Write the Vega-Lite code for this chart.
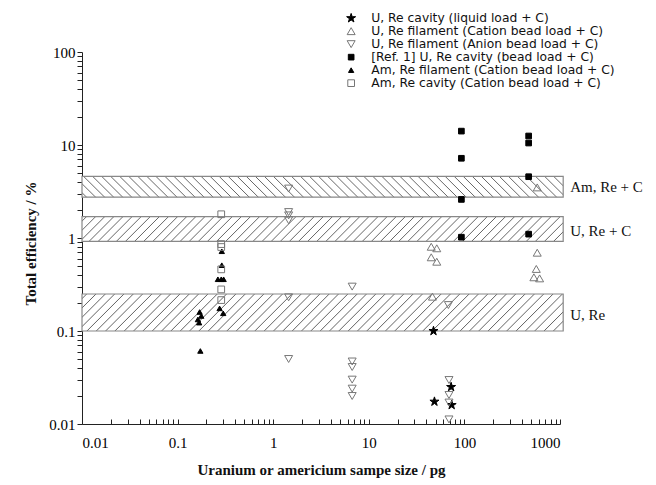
{
  "$schema": "https://vega.github.io/schema/vega-lite/v6.json",
  "width": 478,
  "height": 372,
  "autosize": {"type": "none"},
  "padding": {"left": 82, "top": 52, "right": 96, "bottom": 61},
  "background": "white",
  "config": {
    "view": {"stroke": null},
    "axis": {
      "grid": false,
      "tickColor": "#222", "domainColor": "#222", "tickWidth": 1, "domainWidth": 1,
      "labelFont": "Liberation Serif", "labelFontSize": 15, "labelColor": "#000",
      "titleFont": "Liberation Serif", "titleFontSize": 15, "titleFontWeight": "bold", "titleColor": "#111",
      "labelOverlap": false
    }
  },
  "params": [
    {"name": "hs", "value": [
      {"offset":0,"color":"#fff"},
      {"offset":0.007,"color":"#fff"},{"offset":0.009,"color":"#666"},{"offset":0.011,"color":"#fff"},
      {"offset":0.025,"color":"#fff"},{"offset":0.027,"color":"#666"},{"offset":0.029,"color":"#fff"},
      {"offset":0.043,"color":"#fff"},{"offset":0.045,"color":"#666"},{"offset":0.047,"color":"#fff"},
      {"offset":0.061,"color":"#fff"},{"offset":0.063,"color":"#666"},{"offset":0.065,"color":"#fff"},
      {"offset":0.079,"color":"#fff"},{"offset":0.081,"color":"#666"},{"offset":0.083,"color":"#fff"},
      {"offset":0.097,"color":"#fff"},{"offset":0.099,"color":"#666"},{"offset":0.101,"color":"#fff"},
      {"offset":0.115,"color":"#fff"},{"offset":0.117,"color":"#666"},{"offset":0.119,"color":"#fff"},
      {"offset":0.133,"color":"#fff"},{"offset":0.135,"color":"#666"},{"offset":0.137,"color":"#fff"},
      {"offset":0.151,"color":"#fff"},{"offset":0.153,"color":"#666"},{"offset":0.155,"color":"#fff"},
      {"offset":0.169,"color":"#fff"},{"offset":0.171,"color":"#666"},{"offset":0.173,"color":"#fff"},
      {"offset":0.187,"color":"#fff"},{"offset":0.189,"color":"#666"},{"offset":0.191,"color":"#fff"},
      {"offset":0.205,"color":"#fff"},{"offset":0.207,"color":"#666"},{"offset":0.209,"color":"#fff"},
      {"offset":0.223,"color":"#fff"},{"offset":0.225,"color":"#666"},{"offset":0.227,"color":"#fff"},
      {"offset":0.241,"color":"#fff"},{"offset":0.243,"color":"#666"},{"offset":0.245,"color":"#fff"},
      {"offset":0.259,"color":"#fff"},{"offset":0.261,"color":"#666"},{"offset":0.263,"color":"#fff"},
      {"offset":0.277,"color":"#fff"},{"offset":0.279,"color":"#666"},{"offset":0.281,"color":"#fff"},
      {"offset":0.295,"color":"#fff"},{"offset":0.297,"color":"#666"},{"offset":0.299,"color":"#fff"},
      {"offset":0.313,"color":"#fff"},{"offset":0.315,"color":"#666"},{"offset":0.317,"color":"#fff"},
      {"offset":0.331,"color":"#fff"},{"offset":0.333,"color":"#666"},{"offset":0.335,"color":"#fff"},
      {"offset":0.349,"color":"#fff"},{"offset":0.351,"color":"#666"},{"offset":0.353,"color":"#fff"},
      {"offset":0.367,"color":"#fff"},{"offset":0.369,"color":"#666"},{"offset":0.371,"color":"#fff"},
      {"offset":0.385,"color":"#fff"},{"offset":0.387,"color":"#666"},{"offset":0.389,"color":"#fff"},
      {"offset":0.403,"color":"#fff"},{"offset":0.405,"color":"#666"},{"offset":0.407,"color":"#fff"},
      {"offset":0.421,"color":"#fff"},{"offset":0.423,"color":"#666"},{"offset":0.425,"color":"#fff"},
      {"offset":0.439,"color":"#fff"},{"offset":0.441,"color":"#666"},{"offset":0.443,"color":"#fff"},
      {"offset":0.457,"color":"#fff"},{"offset":0.459,"color":"#666"},{"offset":0.461,"color":"#fff"},
      {"offset":0.475,"color":"#fff"},{"offset":0.477,"color":"#666"},{"offset":0.479,"color":"#fff"},
      {"offset":0.493,"color":"#fff"},{"offset":0.495,"color":"#666"},{"offset":0.497,"color":"#fff"},
      {"offset":0.511,"color":"#fff"},{"offset":0.513,"color":"#666"},{"offset":0.515,"color":"#fff"},
      {"offset":0.529,"color":"#fff"},{"offset":0.531,"color":"#666"},{"offset":0.533,"color":"#fff"},
      {"offset":0.547,"color":"#fff"},{"offset":0.549,"color":"#666"},{"offset":0.551,"color":"#fff"},
      {"offset":0.565,"color":"#fff"},{"offset":0.567,"color":"#666"},{"offset":0.569,"color":"#fff"},
      {"offset":0.583,"color":"#fff"},{"offset":0.585,"color":"#666"},{"offset":0.587,"color":"#fff"},
      {"offset":0.601,"color":"#fff"},{"offset":0.603,"color":"#666"},{"offset":0.605,"color":"#fff"},
      {"offset":0.619,"color":"#fff"},{"offset":0.621,"color":"#666"},{"offset":0.623,"color":"#fff"},
      {"offset":0.637,"color":"#fff"},{"offset":0.639,"color":"#666"},{"offset":0.641,"color":"#fff"},
      {"offset":0.655,"color":"#fff"},{"offset":0.657,"color":"#666"},{"offset":0.659,"color":"#fff"},
      {"offset":0.673,"color":"#fff"},{"offset":0.675,"color":"#666"},{"offset":0.677,"color":"#fff"},
      {"offset":0.691,"color":"#fff"},{"offset":0.693,"color":"#666"},{"offset":0.695,"color":"#fff"},
      {"offset":0.709,"color":"#fff"},{"offset":0.711,"color":"#666"},{"offset":0.713,"color":"#fff"},
      {"offset":0.727,"color":"#fff"},{"offset":0.729,"color":"#666"},{"offset":0.731,"color":"#fff"},
      {"offset":0.745,"color":"#fff"},{"offset":0.747,"color":"#666"},{"offset":0.749,"color":"#fff"},
      {"offset":0.763,"color":"#fff"},{"offset":0.765,"color":"#666"},{"offset":0.767,"color":"#fff"},
      {"offset":0.781,"color":"#fff"},{"offset":0.783,"color":"#666"},{"offset":0.785,"color":"#fff"},
      {"offset":0.799,"color":"#fff"},{"offset":0.801,"color":"#666"},{"offset":0.803,"color":"#fff"},
      {"offset":0.817,"color":"#fff"},{"offset":0.819,"color":"#666"},{"offset":0.821,"color":"#fff"},
      {"offset":0.835,"color":"#fff"},{"offset":0.837,"color":"#666"},{"offset":0.839,"color":"#fff"},
      {"offset":0.853,"color":"#fff"},{"offset":0.855,"color":"#666"},{"offset":0.857,"color":"#fff"},
      {"offset":0.871,"color":"#fff"},{"offset":0.873,"color":"#666"},{"offset":0.875,"color":"#fff"},
      {"offset":0.889,"color":"#fff"},{"offset":0.891,"color":"#666"},{"offset":0.893,"color":"#fff"},
      {"offset":0.907,"color":"#fff"},{"offset":0.909,"color":"#666"},{"offset":0.911,"color":"#fff"},
      {"offset":0.925,"color":"#fff"},{"offset":0.927,"color":"#666"},{"offset":0.929,"color":"#fff"},
      {"offset":0.943,"color":"#fff"},{"offset":0.945,"color":"#666"},{"offset":0.947,"color":"#fff"},
      {"offset":0.961,"color":"#fff"},{"offset":0.963,"color":"#666"},{"offset":0.965,"color":"#fff"},
      {"offset":0.979,"color":"#fff"},{"offset":0.981,"color":"#666"},{"offset":0.983,"color":"#fff"},
      {"offset":1,"color":"#fff"}
    ]}
  ],
  "datasets": {
    "bands": [
      {"band": "Am", "x": 0.01, "x2": 1080, "y": 2.75, "y2": 4.6},
      {"band": "URC", "x": 0.01, "x2": 1080, "y": 0.92, "y2": 1.7},
      {"band": "UR", "x": 0.01, "x2": 1080, "y": 0.1, "y2": 0.25}
    ],
    "labels": [
      {"x": 1080, "y": 3.56, "text": "Am, Re + C"},
      {"x": 1080, "y": 1.18, "text": "U, Re + C"},
      {"x": 1080, "y": 0.15, "text": "U, Re"}
    ],
    "pts": [
      {"s": "U, Re cavity (liquid load + C)", "x": 47.5, "y": 0.1},
      {"s": "U, Re cavity (liquid load + C)", "x": 48.6, "y": 0.0174},
      {"s": "U, Re cavity (liquid load + C)", "x": 72.6, "y": 0.025},
      {"s": "U, Re cavity (liquid load + C)", "x": 73.6, "y": 0.016},
      {"s": "U, Re filament (Cation bead load + C)", "x": 45, "y": 0.805},
      {"s": "U, Re filament (Cation bead load + C)", "x": 51.4, "y": 0.775},
      {"s": "U, Re filament (Cation bead load + C)", "x": 45, "y": 0.62},
      {"s": "U, Re filament (Cation bead load + C)", "x": 51.4, "y": 0.556},
      {"s": "U, Re filament (Cation bead load + C)", "x": 46.3, "y": 0.234},
      {"s": "U, Re filament (Cation bead load + C)", "x": 578, "y": 3.5},
      {"s": "U, Re filament (Cation bead load + C)", "x": 578, "y": 0.695},
      {"s": "U, Re filament (Cation bead load + C)", "x": 565, "y": 0.465},
      {"s": "U, Re filament (Cation bead load + C)", "x": 533, "y": 0.378},
      {"s": "U, Re filament (Cation bead load + C)", "x": 612, "y": 0.368},
      {"s": "U, Re filament (Anion bead load + C)", "x": 1.45, "y": 3.4},
      {"s": "U, Re filament (Anion bead load + C)", "x": 1.45, "y": 1.9},
      {"s": "U, Re filament (Anion bead load + C)", "x": 1.45, "y": 1.75},
      {"s": "U, Re filament (Anion bead load + C)", "x": 1.45, "y": 1.55},
      {"s": "U, Re filament (Anion bead load + C)", "x": 1.45, "y": 0.23},
      {"s": "U, Re filament (Anion bead load + C)", "x": 1.45, "y": 0.05},
      {"s": "U, Re filament (Anion bead load + C)", "x": 6.7, "y": 0.3},
      {"s": "U, Re filament (Anion bead load + C)", "x": 6.7, "y": 0.047},
      {"s": "U, Re filament (Anion bead load + C)", "x": 6.7, "y": 0.041},
      {"s": "U, Re filament (Anion bead load + C)", "x": 6.7, "y": 0.03},
      {"s": "U, Re filament (Anion bead load + C)", "x": 6.7, "y": 0.024},
      {"s": "U, Re filament (Anion bead load + C)", "x": 6.7, "y": 0.02},
      {"s": "U, Re filament (Anion bead load + C)", "x": 68, "y": 0.19},
      {"s": "U, Re filament (Anion bead load + C)", "x": 69, "y": 0.0297},
      {"s": "U, Re filament (Anion bead load + C)", "x": 69, "y": 0.0205},
      {"s": "U, Re filament (Anion bead load + C)", "x": 69, "y": 0.017},
      {"s": "U, Re filament (Anion bead load + C)", "x": 69, "y": 0.0112},
      {"s": "[Ref. 1] U, Re cavity (bead load + C)", "x": 93, "y": 14.1},
      {"s": "[Ref. 1] U, Re cavity (bead load + C)", "x": 93, "y": 7.2},
      {"s": "[Ref. 1] U, Re cavity (bead load + C)", "x": 93, "y": 2.6},
      {"s": "[Ref. 1] U, Re cavity (bead load + C)", "x": 93, "y": 1.02},
      {"s": "[Ref. 1] U, Re cavity (bead load + C)", "x": 470, "y": 12.5},
      {"s": "[Ref. 1] U, Re cavity (bead load + C)", "x": 470, "y": 10.5},
      {"s": "[Ref. 1] U, Re cavity (bead load + C)", "x": 470, "y": 4.56},
      {"s": "[Ref. 1] U, Re cavity (bead load + C)", "x": 470, "y": 1.1},
      {"s": "Am, Re filament (Cation bead load + C)", "x": 0.29, "y": 0.72},
      {"s": "Am, Re filament (Cation bead load + C)", "x": 0.29, "y": 0.51},
      {"s": "Am, Re filament (Cation bead load + C)", "x": 0.264, "y": 0.36},
      {"s": "Am, Re filament (Cation bead load + C)", "x": 0.286, "y": 0.36},
      {"s": "Am, Re filament (Cation bead load + C)", "x": 0.303, "y": 0.36},
      {"s": "Am, Re filament (Cation bead load + C)", "x": 0.275, "y": 0.175},
      {"s": "Am, Re filament (Cation bead load + C)", "x": 0.3, "y": 0.155},
      {"s": "Am, Re filament (Cation bead load + C)", "x": 0.17, "y": 0.16},
      {"s": "Am, Re filament (Cation bead load + C)", "x": 0.177, "y": 0.145},
      {"s": "Am, Re filament (Cation bead load + C)", "x": 0.163, "y": 0.133},
      {"s": "Am, Re filament (Cation bead load + C)", "x": 0.168, "y": 0.123},
      {"s": "Am, Re filament (Cation bead load + C)", "x": 0.173, "y": 0.061},
      {"s": "Am, Re cavity (Cation bead load + C)", "x": 0.286, "y": 1.8},
      {"s": "Am, Re cavity (Cation bead load + C)", "x": 0.286, "y": 0.86},
      {"s": "Am, Re cavity (Cation bead load + C)", "x": 0.286, "y": 0.8},
      {"s": "Am, Re cavity (Cation bead load + C)", "x": 0.286, "y": 0.46},
      {"s": "Am, Re cavity (Cation bead load + C)", "x": 0.286, "y": 0.28},
      {"s": "Am, Re cavity (Cation bead load + C)", "x": 0.286, "y": 0.215}
    ]
  },
  "encoding": {
    "x": {"field": "x", "type": "quantitative",
      "scale": {"type": "log", "domain": [0.01, 1000], "nice": false},
      "title": "Uranium or americium sampe size / pg",
      "axis": {
        "values": [0.01,0.02,0.03,0.04,0.05,0.06,0.07,0.08,0.09,0.1,0.2,0.3,0.4,0.5,0.6,0.7,0.8,0.9,1,2,3,4,5,6,7,8,9,10,20,30,40,50,60,70,80,90,100,200,300,400,500,600,700,800,900,1000],
        "labelExpr": "abs(log(datum.value)/LN10 - round(log(datum.value)/LN10)) < 0.001 ? format(datum.value, '~g') : ''",
        "labelOverlap": false,
        "tickSize": -5,
        "labelFont": "Liberation Serif", "labelFontSize": 15, "labelPadding": 16, "labelColor": "#000",
        "titleFont": "Liberation Serif", "titleFontSize": 15, "titleFontWeight": "bold",
        "titleY": 45, "titleBaseline": "middle"
      }
    },
    "y": {"field": "y", "type": "quantitative",
      "scale": {"type": "log", "domain": [0.01, 100], "nice": false},
      "title": "Total efficiency / %",
      "axis": {
        "values": [0.01,0.02,0.03,0.04,0.05,0.06,0.07,0.08,0.09,0.1,0.2,0.3,0.4,0.5,0.6,0.7,0.8,0.9,1,2,3,4,5,6,7,8,9,10,20,30,40,50,60,70,80,90,100],
        "labelExpr": "abs(log(datum.value)/LN10 - round(log(datum.value)/LN10)) < 0.001 ? format(datum.value, '~g') : ''",
        "labelOverlap": false,
        "tickSize": 5,
        "labelFont": "Liberation Serif", "labelFontSize": 15, "labelPadding": 2, "labelColor": "#000",
        "titleFont": "Liberation Serif", "titleFontSize": 15, "titleFontWeight": "bold",
        "titleX": -52, "titleY": 191, "titleBaseline": "middle", "titleAlign": "center"
      }
    }
  },
  "layer": [
    {
      "data": {"name": "bands"},
      "transform": [{"filter": "datum.band === 'Am'"}],
      "mark": {"type": "rect", "stroke": "#888", "strokeWidth": 1.2,
        "fill": {"expr": "{gradient: 'linear', x1: 0, y1: 1, x2: 1.0417, y2: 0.9545, stops: hs}"}},
      "encoding": {"x2": {"field": "x2"}, "y2": {"field": "y2"}}
    },
    {
      "data": {"name": "bands"},
      "transform": [{"filter": "datum.band === 'URC'"}],
      "mark": {"type": "rect", "stroke": "#888", "strokeWidth": 1.2,
        "fill": {"expr": "{gradient: 'linear', x1: 0, y1: 0, x2: 1.0488, y2: 0.0541, stops: hs}"}},
      "encoding": {"x2": {"field": "x2"}, "y2": {"field": "y2"}}
    },
    {
      "data": {"name": "bands"},
      "transform": [{"filter": "datum.band === 'UR'"}],
      "mark": {"type": "rect", "stroke": "#888", "strokeWidth": 1.2,
        "fill": {"expr": "{gradient: 'linear', x1: 0, y1: 0, x2: 1.0706, y2: 0.0824, stops: hs}"}},
      "encoding": {"x2": {"field": "x2"}, "y2": {"field": "y2"}}
    },
    {
      "data": {"name": "labels"},
      "mark": {"type": "text", "align": "left", "baseline": "middle", "dx": 7, "font": "Liberation Serif", "fontSize": 15, "color": "#111"},
      "encoding": {"text": {"field": "text"}}
    },
    {
      "data": {"name": "pts"},
      "mark": {"type": "point", "opacity": 1, "strokeWidth": 1},
      "encoding": {
        "shape": {"field": "s", "type": "nominal",
          "scale": {"domain": ["U, Re cavity (liquid load + C)", "U, Re filament (Cation bead load + C)", "U, Re filament (Anion bead load + C)", "[Ref. 1] U, Re cavity (bead load + C)", "Am, Re filament (Cation bead load + C)", "Am, Re cavity (Cation bead load + C)"],
            "range": ["M0,-1L0.2245,-0.309L0.951,-0.309L0.363,0.118L0.588,0.809L0,0.382L-0.588,0.809L-0.363,0.118L-0.951,-0.309L-0.2245,-0.309Z", "triangle-up", "triangle-down", "square", "triangle-up", "square"]},
          "legend": {"orient": "none", "legendX": 263, "legendY": -40, "title": null, "padding": 0,
            "labelFont": "DejaVu Sans", "labelFontSize": 12.3, "labelColor": "#111", "rowPadding": 0,
            "labelOffset": 14, "labelLimit": 400, "symbolStrokeWidth": 1, "symbolOpacity": 1}
        },
        "fill": {"field": "s", "type": "nominal",
          "scale": {"domain": ["U, Re cavity (liquid load + C)", "U, Re filament (Cation bead load + C)", "U, Re filament (Anion bead load + C)", "[Ref. 1] U, Re cavity (bead load + C)", "Am, Re filament (Cation bead load + C)", "Am, Re cavity (Cation bead load + C)"],
            "range": ["#000", "transparent", "transparent", "#000", "#000", "transparent"]}
        },
        "stroke": {"field": "s", "type": "nominal",
          "scale": {"domain": ["U, Re cavity (liquid load + C)", "U, Re filament (Cation bead load + C)", "U, Re filament (Anion bead load + C)", "[Ref. 1] U, Re cavity (bead load + C)", "Am, Re filament (Cation bead load + C)", "Am, Re cavity (Cation bead load + C)"],
            "range": ["#000", "#777", "#777", "#000", "#000", "#777"]}
        },
        "size": {"field": "s", "type": "nominal",
          "scale": {"type": "ordinal", "domain": ["U, Re cavity (liquid load + C)", "U, Re filament (Cation bead load + C)", "U, Re filament (Anion bead load + C)", "[Ref. 1] U, Re cavity (bead load + C)", "Am, Re filament (Cation bead load + C)", "Am, Re cavity (Cation bead load + C)"],
            "range": [90, 64, 64, 32, 28, 45]}
        }
      }
    }
  ]
}
